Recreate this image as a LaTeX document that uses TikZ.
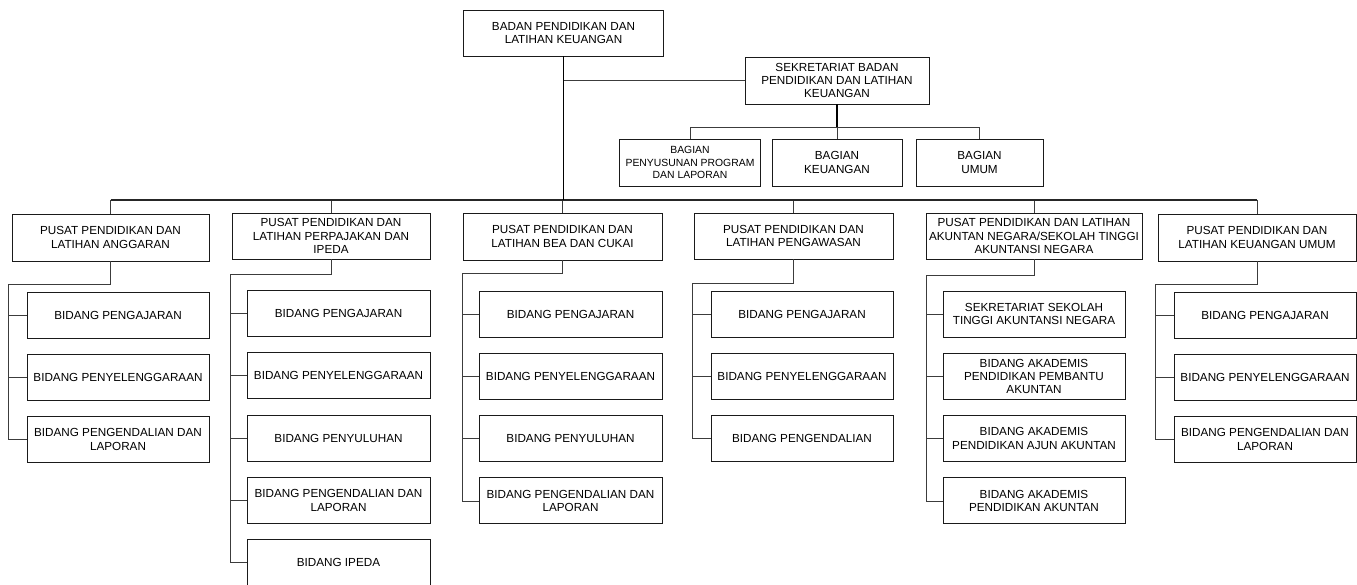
\documentclass[tikz,border=0pt]{standalone}
\usepackage{fontspec}
\setmainfont{Liberation Sans}
\usetikzlibrary{calc,positioning}
\definecolor{ink}{HTML}{1A1A1A}
\definecolor{wire}{HTML}{3C3C3C}
\tikzset{
  obox/.style={draw=ink,line width=0.9pt,fill=white,align=center,inner sep=2pt,
    minimum width=#1,minimum height=46pt,font=\fontsize{11.7}{13.3}\selectfont},
  sub/.style={obox=#1},
  link/.style={wire,line width=0.8pt},
  trunk/.style={black,line width=1.9pt},
  bus/.style={black!85,line width=1.3pt},
}
\begin{document}
\begin{tikzpicture}[x=1pt,y=-1pt]
\useasboundingbox (0,0) rectangle (1357,585);
\node[obox=200pt] (top) at (563.5,33) {BADAN PENDIDIKAN DAN\\LATIHAN KEUANGAN};
\node[obox=184pt,minimum height=47pt] (sek) at (837,80.5) {SEKRETARIAT BADAN\\PENDIDIKAN DAN LATIHAN\\KEUANGAN};
\node[obox=141pt,minimum height=47pt,font=\fontsize{10.4}{12.2}\selectfont] (bag1) at (690,162.5) {BAGIAN\\PENYUSUNAN PROGRAM\\DAN LAPORAN};
\node[obox=130pt,minimum height=47pt] (bag2) at (837,162.5) {BAGIAN\\KEUANGAN};
\node[obox=127pt,minimum height=47pt] (bag3) at (979.5,162.5) {BAGIAN\\UMUM};
\node[obox=197pt,minimum height=47pt] (ang) at (110.5,237.5) {PUSAT PENDIDIKAN DAN\\LATIHAN ANGGARAN};
\node[obox=198pt] (paj) at (331,236) {PUSAT PENDIDIKAN DAN\\LATIHAN PERPAJAKAN DAN\\IPEDA};
\node[obox=199pt,minimum height=47pt] (bea) at (562.5,236.5) {PUSAT PENDIDIKAN DAN\\LATIHAN BEA DAN CUKAI};
\node[obox=199pt] (aws) at (793.5,236) {PUSAT PENDIDIKAN DAN\\LATIHAN PENGAWASAN};
\node[obox=216pt] (akt) at (1034,236) {PUSAT PENDIDIKAN DAN LATIHAN\\AKUNTAN NEGARA/SEKOLAH TINGGI\\AKUNTANSI NEGARA};
\node[obox=198pt,minimum height=47pt] (umm) at (1257,237.5) {PUSAT PENDIDIKAN DAN\\LATIHAN KEUANGAN UMUM};

\foreach \i/\t in {1/BIDANG PENGAJARAN,2/BIDANG PENYELENGGARAAN,3/{BIDANG PENGENDALIAN DAN\\LAPORAN}}
  \node[sub=182pt] (ang\i) at (118,{315+62.3*(\i-1)}) {\t};
\foreach \i/\t in {1/BIDANG PENGAJARAN,2/BIDANG PENYELENGGARAAN,3/BIDANG PENYULUHAN,4/{BIDANG PENGENDALIAN DAN\\LAPORAN},5/BIDANG IPEDA}
  \node[sub=183pt] (paj\i) at (338.5,{313.5+62.3*(\i-1)}) {\t};
\foreach \i/\t in {1/BIDANG PENGAJARAN,2/BIDANG PENYELENGGARAAN,3/BIDANG PENYULUHAN,4/{BIDANG PENGENDALIAN DAN\\LAPORAN}}
  \node[sub=183pt] (bea\i) at (570.5,{314+62.3*(\i-1)}) {\t};
\foreach \i/\t in {1/BIDANG PENGAJARAN,2/BIDANG PENYELENGGARAAN,3/BIDANG PENGENDALIAN}
  \node[sub=182pt] (aws\i) at (802,{314+62.3*(\i-1)}) {\t};
\foreach \i/\t in {1/{SEKRETARIAT SEKOLAH\\TINGGI AKUNTANSI NEGARA},2/{BIDANG AKADEMIS\\PENDIDIKAN PEMBANTU\\AKUNTAN},3/{BIDANG AKADEMIS\\PENDIDIKAN AJUN AKUNTAN},4/{BIDANG AKADEMIS\\PENDIDIKAN AKUNTAN}}
  \node[sub=182pt] (akt\i) at (1034,{314+62.3*(\i-1)}) {\t};
\foreach \i/\t in {1/BIDANG PENGAJARAN,2/BIDANG PENYELENGGARAAN,3/{BIDANG PENGENDALIAN DAN\\LAPORAN}}
  \node[sub=182pt] (umm\i) at (1265,{315+62.3*(\i-1)}) {\t};

\coordinate (hub) at (563.5,200);
\coordinate (bhub) at (837,127);
\foreach \n in {ang,paj,bea,aws,akt,umm}
  \draw[link] (hub -| \n.north) -- (\n.north);
\draw[bus] (hub -| ang.north) -- (hub -| umm.north);
\draw[trunk] (top.south) -- (hub);
\draw[link] (top.south |- sek.west) -- (sek.west);
\draw[trunk] (sek.south) -- (bhub);
\foreach \n in {bag1,bag2,bag3}
  \draw[link] (bhub) -| (\n.north);

\foreach \c/\x/\k/\m in {ang/8/284/3,paj/230/274/5,bea/462/273/4,aws/692/283/3,akt/926/275/4,umm/1155/284/3} {
  \coordinate (\c-k) at (\x,\k);
  \draw[link] (\c.south) |- (\c-k) |- (\c\m.west);
  \foreach \i in {1,...,\m}
    \draw[link] (\c-k |- \c\i.west) -- (\c\i.west);
}
\end{tikzpicture}
\end{document}
